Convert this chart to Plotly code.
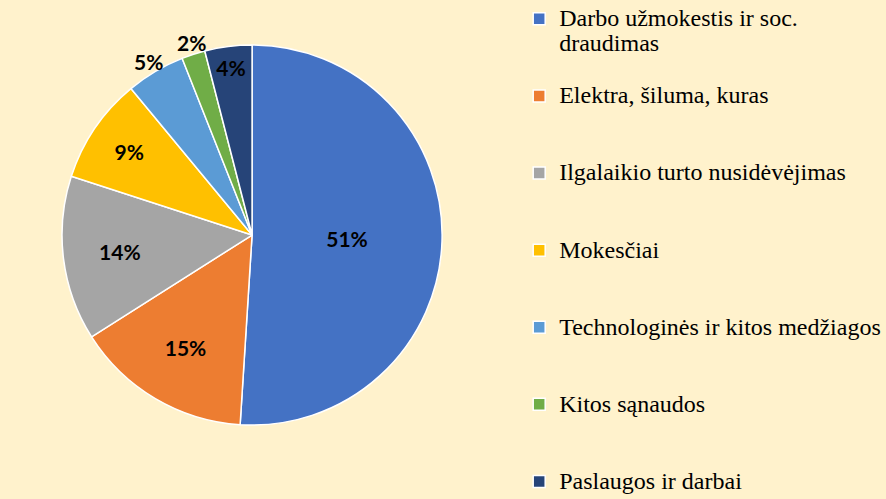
import math
import plotly.graph_objects as go

categories = [
    "Darbo užmokestis ir soc. draudimas",
    "Elektra, šiluma, kuras",
    "Ilgalaikio turto nusidėvėjimas",
    "Mokesčiai",
    "Technologinės ir kitos medžiagos",
    "Kitos sąnaudos",
    "Paslaugos ir darbai",
]
legend_lines = [
    ["Darbo užmokestis ir soc.", "draudimas"],
    ["Elektra, šiluma, kuras"],
    ["Ilgalaikio turto nusidėvėjimas"],
    ["Mokesčiai"],
    ["Technologinės ir kitos medžiagos"],
    ["Kitos sąnaudos"],
    ["Paslaugos ir darbai"],
]
shares = [51, 15, 14, 9, 5, 2, 4]
colors = ["#4472C4", "#ED7D31", "#A5A5A5", "#FFC000", "#5B9BD5", "#70AD47", "#264478"]
outside_label = [False, False, False, False, True, True, False]

W, H = 886, 499
DOM_X = [0.07, 0.499]
DOM_Y = [0.148, 0.91]
LEGEND_FONT = 19
TEXT_FONT = 24
PCT_FONT = 21


def legend_label(lines, last):
    span = "<span style='font-size:%dpx'>%s</span>"
    rows = [span % (TEXT_FONT, t) for t in lines]
    if not last:
        while len(rows) < 3:
            rows.append("\u00a0")
    return "<br>".join(rows)


labels = [legend_label(l, i == len(legend_lines) - 1) for i, l in enumerate(legend_lines)]
text_tpl = ["" if o else "%{percent:.0%}" for o in outside_label]

fig = go.Figure(
    go.Pie(
        labels=labels,
        values=shares,
        customdata=categories,
        hovertemplate="%{customdata}: %{percent}<extra></extra>",
        sort=False,
        direction="clockwise",
        rotation=0,
        marker=dict(colors=colors, line=dict(color="white", width=1.5)),
        texttemplate=text_tpl,
        textposition="inside",
        insidetextorientation="horizontal",
        textfont=dict(family="Lato", size=PCT_FONT, color="black", weight="bold"),
        domain=dict(x=DOM_X, y=DOM_Y),
    )
)

# outside percentage labels placed from the slice mid-angles
dom_w = (DOM_X[1] - DOM_X[0]) * W
dom_h = (DOM_Y[1] - DOM_Y[0]) * H
radius = min(dom_w, dom_h) / 2
cx = (DOM_X[0] + DOM_X[1]) / 2 * W
cy = (DOM_Y[0] + DOM_Y[1]) / 2 * H
total = sum(shares)
cum = 0
for v, o in zip(shares, outside_label):
    mid = (cum + v / 2) / total
    cum += v
    if not o:
        continue
    theta = 2 * math.pi * mid
    rr = radius + 26
    px = cx + rr * math.sin(theta) - 10
    py = cy + rr * math.cos(theta) + 2
    fig.add_annotation(
        x=px / W, y=py / H, xref="paper", yref="paper",
        text="<b>%d%%</b>" % round(100 * v / total), showarrow=False,
        font=dict(family="Lato", size=PCT_FONT, color="black"),
    )

fig.update_layout(
    width=W,
    height=H,
    paper_bgcolor="#FFF2CC",
    plot_bgcolor="#FFF2CC",
    margin=dict(l=0, r=0, t=0, b=0, autoexpand=False),
    showlegend=True,
    legend=dict(
        x=0.586,
        xanchor="left",
        y=1.0,
        yanchor="top",
        valign="top",
        maxheight=900,
        font=dict(family="Liberation Serif", size=LEGEND_FONT, color="black"),
        bgcolor="rgba(0,0,0,0)",
    ),
)

fig.write_html(
    "out.html",
    config={"displayModeBar": False},
    post_script="document.body.style.margin='0';",
)
